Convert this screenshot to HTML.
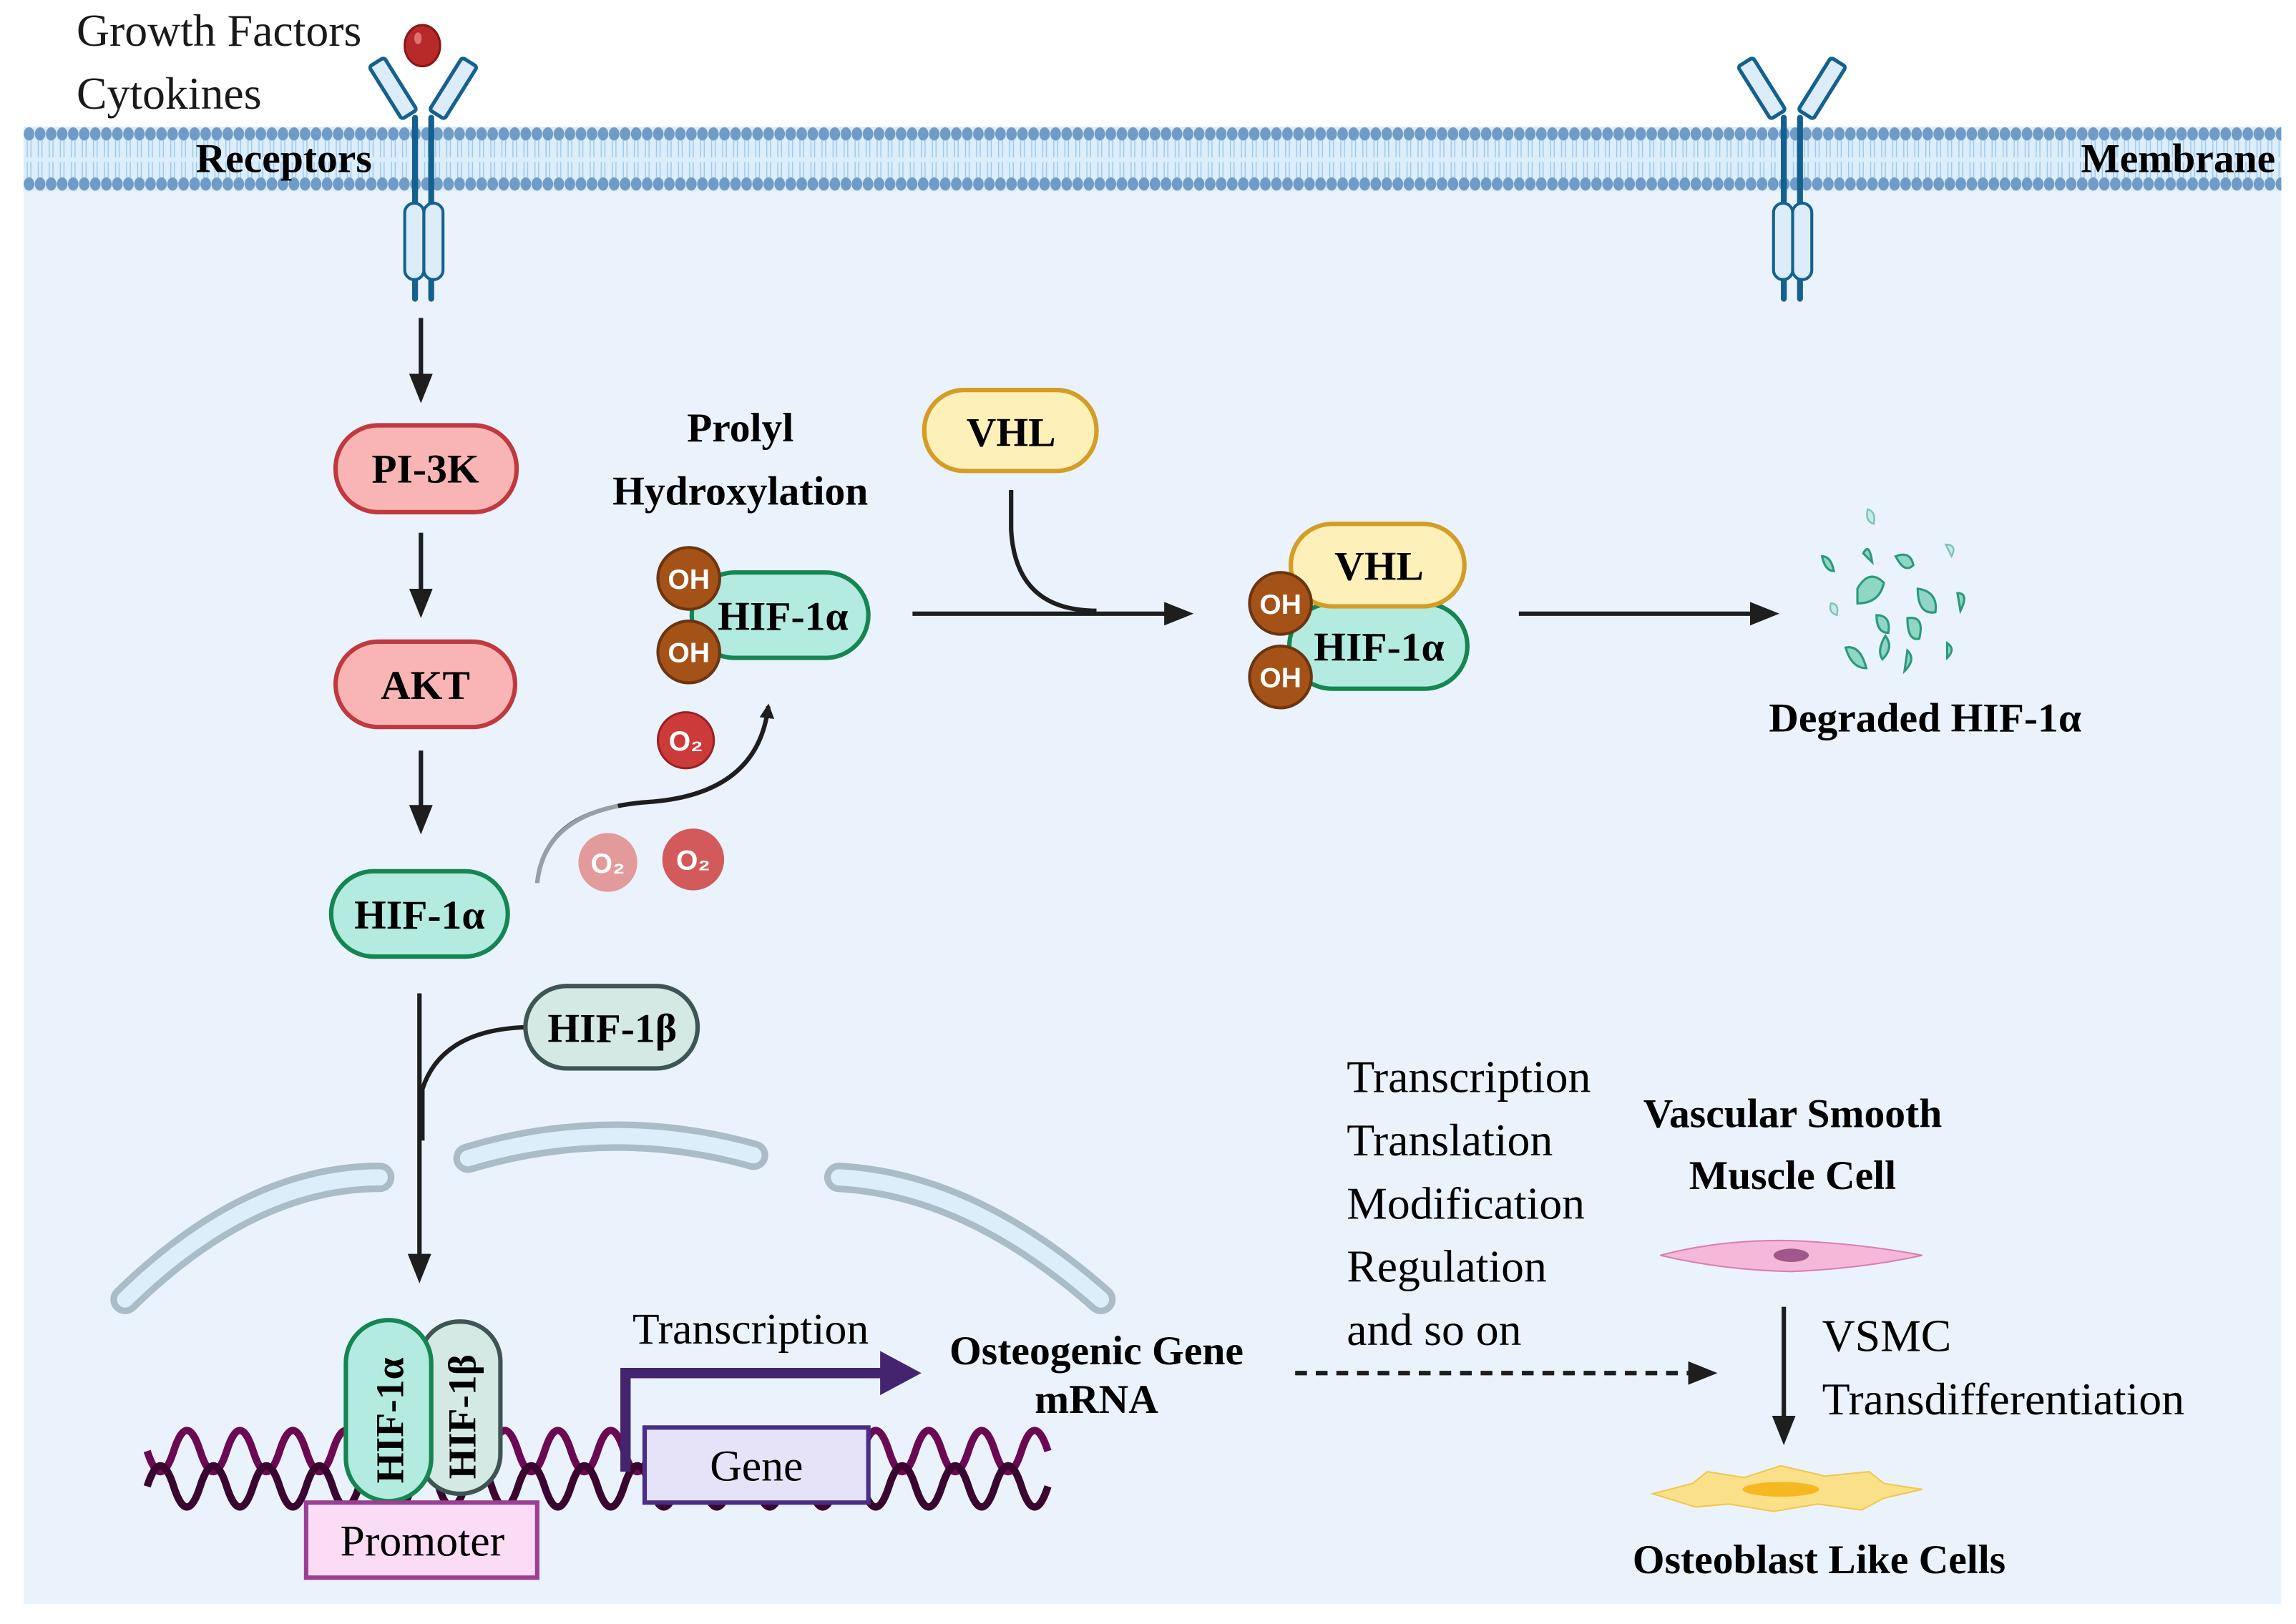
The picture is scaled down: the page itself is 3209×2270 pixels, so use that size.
<!DOCTYPE html>
<html><head><meta charset="utf-8"><style>html,body{margin:0;padding:0;background:#fff}svg{display:block}</style></head>
<body>
<svg width="3209" height="2270" viewBox="0 0 1560 1103.5" xmlns="http://www.w3.org/2000/svg" font-family="'Liberation Serif', serif">
<defs>
<pattern id="heads" x="16" y="0" width="7.5" height="200" patternUnits="userSpaceOnUse">
<ellipse cx="3.75" cy="91" rx="3.6" ry="4.5" fill="#6f9bc6"/>
<ellipse cx="3.75" cy="125" rx="3.6" ry="4.5" fill="#6f9bc6"/>
<path d="M2.5 95 V107 M5 95 V107 M2.5 110 V121 M5 110 V121" stroke="#9cc8ee" stroke-width="0.7"/>
</pattern>
<marker id="ah" markerWidth="10" markerHeight="10" refX="8" refY="5" orient="auto" markerUnits="userSpaceOnUse" viewBox="0 0 10 10"><path d="M0 0 L10 5 L0 10 Z" fill="#1e1e1e"/></marker>
<marker id="ahb" markerWidth="20" markerHeight="20" refX="16" refY="10" orient="auto" markerUnits="userSpaceOnUse" viewBox="0 0 20 20"><path d="M0 2 L20 10 L0 18 Z" fill="#1e1e1e"/></marker>
</defs>
<rect x="16" y="86" width="1534" height="1004" fill="#eaf3fc"/>
<rect x="16" y="86" width="1534" height="44" fill="#dcedfb"/>
<rect x="16" y="86" width="1534" height="44" fill="url(#heads)"/>

<!-- receptors -->
<g id="rec">
<rect x="261" y="39" width="12" height="42" rx="2" transform="rotate(-32 267 60)" fill="#dcecf9" stroke="#14618f" stroke-width="2.5"/>
<rect x="302" y="39" width="12" height="42" rx="2" transform="rotate(32 308 60)" fill="#dcecf9" stroke="#14618f" stroke-width="2.5"/>
<path d="M282 80 V203 M293 80 V203" stroke="#14618f" stroke-width="4" stroke-linecap="round"/>
<rect x="275" y="138" width="13" height="52" rx="6.5" fill="#dcecf9" stroke="#14618f" stroke-width="2"/>
<rect x="288" y="138" width="13" height="52" rx="6.5" fill="#dcecf9" stroke="#14618f" stroke-width="2"/>
</g>
<use href="#rec" x="930"/>
<ellipse cx="287" cy="31" rx="12" ry="14" fill="#b82a2a" stroke="#8a1616" stroke-width="1.5"/>
<ellipse cx="284" cy="26" rx="2.5" ry="4" fill="#e07070"/>

<g font-size="31" fill="#1a1a1a">
<text x="52" y="31">Growth Factors</text>
<text x="52" y="74">Cytokines</text>
</g>
<text x="133" y="117" font-size="28" font-weight="bold">Receptors</text>
<text x="1546" y="117" font-size="28" font-weight="bold" text-anchor="end">Membrane</text>

<!-- left pathway -->
<g stroke="#1e1e1e" stroke-width="3" fill="none">
<path d="M286 216 V270" marker-end="url(#ahb)"/>
<path d="M286 362 V416" marker-end="url(#ahb)"/>
<path d="M286 510 V563" marker-end="url(#ahb)"/>
<path d="M285 675 V868" marker-end="url(#ahb)"/>
<path d="M357 698 Q300 700 287 740 V775"/>
<path d="M620 417 H807" marker-end="url(#ahb)"/>
<path d="M687 333 V360 Q690 415 745 415"/>
<path d="M1032 417 H1205" marker-end="url(#ahb)"/>
<path d="M1212 888 V978" marker-end="url(#ahb)"/>
<path d="M880 933 H1163" stroke-dasharray="8 6" marker-end="url(#ahb)"/>
</g>
<path d="M365 600 Q370 550 440 545 Q515 540 522 480" stroke="#1e1e1e" stroke-width="3" fill="none" marker-end="url(#ah)"/>
<path d="M365 600 Q370 560 420 548" stroke="#eaf3fc" stroke-width="5" fill="none" opacity="0.6"/>

<g stroke-width="3" font-size="28" font-weight="bold" text-anchor="middle">
<rect x="228" y="289" width="123" height="59" rx="29" fill="#f9b5b5" stroke="#c0393f"/>
<text x="289" y="328" stroke="none">PI-3K</text>
<rect x="228" y="436" width="122" height="58" rx="29" fill="#f9b5b5" stroke="#c0393f"/>
<text x="289" y="475" stroke="none">AKT</text>
<rect x="225" y="592" width="120" height="58" rx="29" fill="#b3ebe0" stroke="#158552"/>
<text x="285" y="631" stroke="none">HIF-1α</text>
<rect x="357" y="670" width="117" height="56" rx="28" fill="#d4e8e4" stroke="#3d5553"/>
<text x="416" y="708" stroke="none">HIF-1β</text>
<rect x="470" y="389" width="120" height="58" rx="29" fill="#b3ebe0" stroke="#158552"/>
<text x="532" y="428" stroke="none">HIF-1α</text>
<rect x="628" y="265" width="117" height="55" rx="27" fill="#fdf0b8" stroke="#d49d25"/>
<text x="687" y="303" stroke="none">VHL</text>
<rect x="876" y="410" width="121" height="58" rx="29" fill="#b3ebe0" stroke="#158552"/>
<text x="937" y="449" stroke="none">HIF-1α</text>
<rect x="877" y="356" width="118" height="56" rx="28" fill="#fdf0b8" stroke="#d49d25"/>
<text x="937" y="394" stroke="none">VHL</text>
</g>
<g font-family="'Liberation Sans', sans-serif" font-size="19" font-weight="bold" fill="#fff" text-anchor="middle">
<circle cx="468" cy="393" r="21" fill="#a55218" stroke="#6b3510" stroke-width="2"/><text x="468" y="400">OH</text>
<circle cx="468" cy="443" r="21" fill="#a55218" stroke="#6b3510" stroke-width="2"/><text x="468" y="450">OH</text>
<circle cx="870" cy="410" r="21" fill="#a55218" stroke="#6b3510" stroke-width="2"/><text x="870" y="417">OH</text>
<circle cx="870" cy="460" r="21" fill="#a55218" stroke="#6b3510" stroke-width="2"/><text x="870" y="467">OH</text>
<circle cx="466" cy="503" r="19" fill="#cc3a3a" stroke="#9a2020" stroke-width="1.5"/><text x="466" y="510">O₂</text>
<circle cx="413" cy="586" r="20" fill="#e39a9a"/><text x="413" y="593">O₂</text>
<circle cx="471" cy="584" r="21" fill="#d35a5a"/><text x="471" y="591">O₂</text>
</g>
<g font-size="28" font-weight="bold" text-anchor="middle">
<text x="503" y="300">Prolyl</text>
<text x="503" y="343">Hydroxylation</text>
<text x="1308" y="497">Degraded HIF-1α</text>
<text x="745" y="927">Osteogenic Gene</text>
<text x="745" y="960">mRNA</text>
<text x="1218" y="766">Vascular Smooth</text>
<text x="1218" y="808">Muscle Cell</text>
<text x="1236" y="1069">Osteoblast Like Cells</text>
</g>
<!-- fragments -->
<g fill="#8fd6c4" stroke="#2a9a78" stroke-width="1.5">
<path d="M1262 400 q8 -14 18 -4 q-3 14 -18 14z"/><path d="M1288 378 q10 -4 12 6 q-6 6 -12 -6z"/>
<path d="M1303 400 q14 2 12 16 q-12 2 -12 -16z"/><path d="M1275 418 q10 0 8 12 q-8 0 -8 -12z"/>
<path d="M1296 420 q12 -2 8 14 q-8 2 -8 -14z"/><path d="M1254 440 q10 -2 14 14 q-10 0 -14 -14z"/>
<path d="M1281 432 q6 8 -2 16 q-4 -6 2 -16z"/><path d="M1296 442 q6 6 -2 14z"/>
<path d="M1323 437 q6 4 0 10z"/><path d="M1238 378 q6 0 8 10 q-6 0 -8 -10z"/>
<path d="M1266 376 q4 -8 6 6z"/><path d="M1330 403 q8 0 2 12z"/>
</g>
<g fill="#c8ebe3" stroke="#7fc4b2" stroke-width="1.2"><path d="M1269 346 q6 2 4 10 q-6 -2 -4 -10z"/><path d="M1322 370 q8 0 4 8z"/><path d="M1244 410 q6 0 4 8 q-6 -2 -4 -8z"/></g>

<!-- nuclear envelope -->
<g fill="none" stroke-linecap="round">
<path d="M85 883 Q170 800 258 800" stroke="#a9bcc8" stroke-width="20"/>
<path d="M85 883 Q170 800 258 800" stroke="#dbeefa" stroke-width="11"/>
<path d="M318 787 Q415 758 512 785" stroke="#a9bcc8" stroke-width="20"/>
<path d="M318 787 Q415 758 512 785" stroke="#dbeefa" stroke-width="11"/>
<path d="M570 800 Q660 805 748 883" stroke="#a9bcc8" stroke-width="20"/>
<path d="M570 800 Q660 805 748 883" stroke="#dbeefa" stroke-width="11"/>
</g>
<!-- DNA -->
<path d="M100 988 q9 28 18 0 t18 0 t18 0 t18 0 t18 0 t18 0 t18 0 t18 0 t18 0 t18 0 t18 0 t18 0 t18 0 t18 0 t18 0 t18 0 t18 0 t18 0 t18 0 t18 0 t18 0 t18 0 t18 0 t18 0 t18 0 t18 0 t18 0 t18 0 t18 0 t18 0 t18 0 t18 0 t18 0 t18 0" stroke="#6b0a52" stroke-width="5" fill="none" transform="translate(0 -2)"/>
<path d="M100 1012 q9 -28 18 0 t18 0 t18 0 t18 0 t18 0 t18 0 t18 0 t18 0 t18 0 t18 0 t18 0 t18 0 t18 0 t18 0 t18 0 t18 0 t18 0 t18 0 t18 0 t18 0 t18 0 t18 0 t18 0 t18 0 t18 0 t18 0 t18 0 t18 0 t18 0 t18 0 t18 0 t18 0 t18 0 t18 0" stroke="#3a0630" stroke-width="5" fill="none" transform="translate(0 -2)"/>
<g stroke-width="3" font-size="27" font-weight="bold">
<rect x="285" y="898" width="55" height="117" rx="27" fill="#d4e8e4" stroke="#3d5553"/>
<text transform="translate(323 1005) rotate(-90)" stroke="none">HIF-1β</text>
<rect x="235" y="897" width="58" height="123" rx="29" fill="#b3ebe0" stroke="#158552"/>
<text transform="translate(274 1008) rotate(-90)" stroke="none">HIF-1α</text>
</g>
<rect x="208" y="1021" width="157" height="51" fill="#fadcf5" stroke="#9a3f94" stroke-width="3"/>
<text x="287" y="1057" font-size="30" text-anchor="middle">Promoter</text>
<path d="M425 1000 V933 H600" stroke="#45246f" stroke-width="7" fill="none"/>
<path d="M598 918 L626 933 L598 948 Z" fill="#45246f"/>
<rect x="438" y="970" width="152" height="51" fill="#e6e2f7" stroke="#4a2e86" stroke-width="3"/>
<text x="514" y="1006" font-size="30" text-anchor="middle">Gene</text>
<text x="510" y="913" font-size="30" text-anchor="middle">Transcription</text>

<g font-size="31">
<text x="915" y="742">Transcription</text>
<text x="915" y="785">Translation</text>
<text x="915" y="828">Modification</text>
<text x="915" y="871">Regulation</text>
<text x="915" y="914">and so on</text>
<text x="1238" y="918">VSMC</text>
<text x="1238" y="961">Transdifferentiation</text>
</g>
<path d="M1128 853 Q1170 842 1217 843 Q1265 845 1306 853 Q1265 862 1217 864 Q1170 863 1128 853 Z" fill="#f6b8d8" stroke="#d880b0" stroke-width="1"/>
<ellipse cx="1217" cy="853" rx="12" ry="4.5" fill="#a0588c"/>
<path d="M1123 1015 L1150 1008 L1160 1000 L1185 1004 L1210 996 L1240 1003 L1270 1000 L1280 1008 L1306 1012 L1280 1018 L1265 1026 L1235 1022 L1205 1027 L1175 1022 L1152 1024 Z" fill="#fbe08a" stroke="#f0c850" stroke-width="1"/>
<ellipse cx="1210" cy="1012" rx="26" ry="5" fill="#f5b820"/>
</svg>
</body></html>
